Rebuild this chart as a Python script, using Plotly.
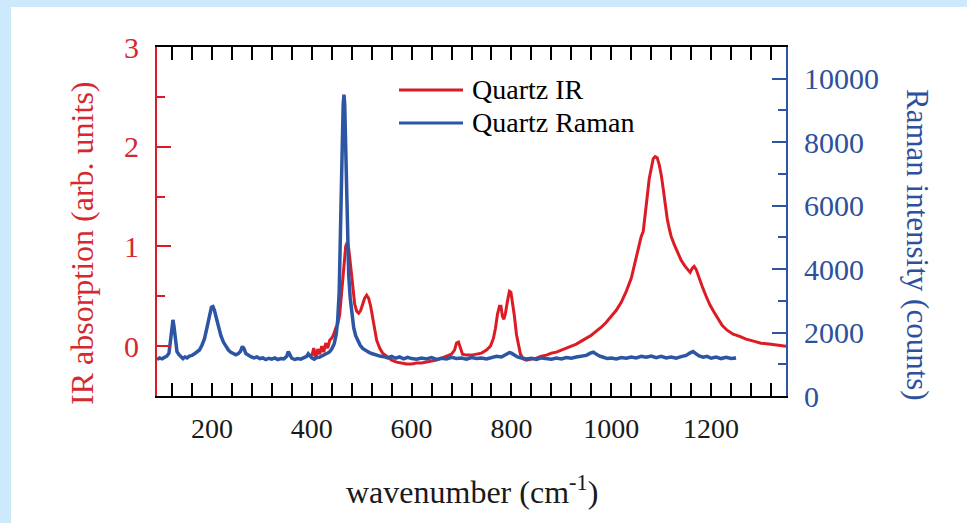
import plotly.graph_objects as go

# ---- data ----
ir_x = [400, 404, 408, 412, 416, 420, 424, 428, 432, 436, 440, 444, 448, 452, 456, 460, 464, 468, 471, 474,
        478, 482, 486, 490, 494, 498, 502, 506, 510, 514, 518, 522, 526, 530, 536, 542, 550, 560, 570, 580,
        590, 600, 610, 620, 630, 640, 650, 660, 670, 680, 686, 690, 694, 698, 702, 710, 720, 730, 740, 750,
        758, 764, 768, 772, 776, 779, 782, 785, 788, 792, 796, 799, 802, 806, 810, 814, 818, 824, 830, 840,
        850, 860, 870, 880, 890, 900, 910, 920, 930, 940, 950, 960, 970, 980, 990, 1000, 1010, 1020, 1030, 1040,
        1048, 1054, 1060, 1064, 1068, 1072, 1076, 1080, 1084, 1088, 1092, 1096, 1100, 1104, 1108, 1112, 1116, 1120, 1126, 1132,
        1140, 1148, 1154, 1158, 1162, 1166, 1170, 1176, 1182, 1190, 1198, 1206, 1214, 1222, 1232, 1244, 1256, 1270, 1285, 1300,
        1320, 1340, 1350]
ir_y = [-0.10, -0.02, -0.12, -0.03, -0.08, 0.00, -0.06, 0.03, -0.02, 0.06, 0.08, 0.12, 0.18, 0.22, 0.32, 0.55, 0.80, 1.00, 1.04, 0.98,
        0.80, 0.58, 0.42, 0.35, 0.33, 0.36, 0.42, 0.48, 0.51, 0.48, 0.40, 0.28, 0.16, 0.06, -0.02, -0.07, -0.10, -0.14, -0.16, -0.17,
        -0.18, -0.18, -0.17, -0.17, -0.16, -0.15, -0.14, -0.12, -0.10, -0.08, -0.04, 0.03, 0.04, -0.02, -0.08, -0.09, -0.09, -0.08, -0.07, -0.04,
        0.00, 0.08, 0.18, 0.32, 0.40, 0.40, 0.30, 0.27, 0.33, 0.45, 0.55, 0.54, 0.45, 0.30, 0.12, 0.00, -0.08, -0.13, -0.14, -0.13,
        -0.12, -0.10, -0.09, -0.07, -0.06, -0.04, -0.02, 0.00, 0.02, 0.05, 0.08, 0.11, 0.15, 0.19, 0.24, 0.30, 0.36, 0.44, 0.55, 0.68,
        0.85, 1.00, 1.10, 1.15, 1.30, 1.50, 1.68, 1.80, 1.88, 1.90, 1.89, 1.82, 1.72, 1.58, 1.42, 1.28, 1.18, 1.10, 1.02, 0.95,
        0.86, 0.80, 0.76, 0.74, 0.78, 0.80, 0.77, 0.68, 0.60, 0.50, 0.41, 0.34, 0.27, 0.21, 0.16, 0.12, 0.10, 0.07, 0.05, 0.03,
        0.02, 0.01, 0.00]

raman_x = [90, 95, 100, 105, 110, 114, 117, 120, 122, 124, 127, 130, 134, 138, 142, 146, 150, 155, 160, 165,
           170, 175, 180, 185, 190, 195, 199, 202, 205, 209, 213, 218, 223, 228, 233, 238, 243, 248, 253, 257,
           261, 264, 268, 273, 278, 284, 290, 296, 302, 308, 314, 320, 326, 332, 338, 344, 350, 353, 356, 360,
           366, 372, 378, 384, 390, 393, 396, 400, 405, 410, 415, 420, 425, 430, 435, 440, 445, 449, 452, 455,
           457, 459, 461, 463, 464.5, 466, 468, 470, 472, 474, 477, 480, 484, 488, 492, 497, 502, 508, 514, 520,
           526, 532, 538, 545, 552, 560, 568, 576, 584, 592, 600, 610, 620, 630, 640, 650, 660, 670, 680, 690,
           700, 710, 720, 730, 740, 750, 760, 770, 780, 790, 796, 800, 806, 812, 820, 830, 840, 850, 860, 870,
           880, 890, 900, 910, 920, 930, 940, 950, 958, 964, 970, 976, 984, 992, 1000, 1010, 1020, 1030, 1040, 1050,
           1060, 1070, 1080, 1090, 1100, 1110, 1120, 1130, 1140, 1150, 1158, 1164, 1170, 1176, 1184, 1192, 1200, 1210, 1220, 1230,
           1240, 1250]
raman_y = [1150, 1200, 1170, 1230, 1260, 1350, 1700, 2200, 2400, 2200, 1700, 1400, 1300, 1250, 1180, 1230, 1200, 1260, 1280, 1330,
           1380, 1450, 1600, 1800, 2150, 2550, 2800, 2820, 2700, 2450, 2150, 1900, 1700, 1550, 1450, 1380, 1350, 1300, 1340, 1400,
           1560, 1500, 1340, 1280, 1240, 1200, 1230, 1180, 1200, 1150, 1190, 1160, 1200, 1150, 1180, 1170, 1250, 1400, 1280, 1190,
           1150, 1180, 1160, 1200, 1250, 1330, 1260, 1200, 1160, 1210, 1220, 1260, 1290, 1330, 1380, 1480, 1650, 1950, 2400, 3300,
           4500, 6000, 7800, 9200, 9500, 9200, 7800, 6000, 4700, 3800, 3100, 2600, 2150, 1900, 1750, 1600, 1500, 1430, 1380, 1340,
           1300, 1280, 1250, 1240, 1200, 1250, 1190, 1230, 1170, 1220, 1180, 1160, 1200, 1170, 1210, 1150, 1190, 1170, 1220, 1180,
           1200, 1160, 1210, 1180, 1200, 1170, 1220, 1250, 1230, 1300, 1370, 1350, 1280, 1230, 1200, 1170, 1190, 1150, 1200, 1180,
           1160, 1200, 1170, 1210, 1190, 1230, 1250, 1280, 1350, 1380, 1320, 1260, 1220, 1180, 1200, 1170, 1210, 1190, 1230, 1200,
           1250, 1220, 1260, 1210, 1250, 1200, 1230, 1190, 1240, 1280, 1360, 1400, 1330, 1260, 1220, 1250, 1190, 1230, 1180, 1220,
           1180, 1200]

x_ticks = [200, 400, 600, 800, 1000, 1200]
ir_ticks = [0, 1, 2, 3]
raman_ticks = [0, 2000, 4000, 6000, 8000, 10000]

# ---- style ----
RED = "#dc1c24"
BLUE = "#2c55a3"
RED_TXT = "#d42a2f"
BLUE_TXT = "#2d519c"
FONT = "Liberation Serif"
W, H = 967, 523
L, R, T, B = 157, 786, 47, 396


def px(x):
    return (x - L) / (R - L)


def py(y):
    return (B - y) / (B - T)


fig = go.Figure()
fig.add_trace(go.Scatter(x=raman_x, y=raman_y, mode="lines", name="Quartz Raman",
                         line=dict(color=BLUE, width=3.5), yaxis="y2", showlegend=False))
fig.add_trace(go.Scatter(x=ir_x, y=ir_y, mode="lines", name="Quartz IR",
                         line=dict(color=RED, width=3), yaxis="y", showlegend=False))

fig.update_layout(
    width=W, height=H,
    margin=dict(l=L, r=W - R, t=T, b=H - B),
    paper_bgcolor="#cdeafc",
    plot_bgcolor="white",
    font=dict(family=FONT, size=28, color="black"),
    xaxis=dict(range=[90, 1350], tickvals=x_ticks, ticktext=[str(v) for v in x_ticks],
               ticks="inside", ticklen=13, tickwidth=2,
               tickcolor="black", showline=True, linecolor="black", linewidth=2, mirror="allticks",
               showgrid=False, zeroline=False, tickfont=dict(size=28, color="#1a1a1a"),
               ticklabelstandoff=6,
               minor=dict(dtick=40, tick0=0, ticks="inside", ticklen=7, tickwidth=2, tickcolor="black")),
    yaxis=dict(range=[-0.5, 3], tickvals=ir_ticks, ticktext=[str(v) for v in ir_ticks],
               ticks="inside", ticklen=14, tickwidth=2,
               tickcolor=RED, showline=True, linecolor=RED, linewidth=2,
               showgrid=False, zeroline=False, tickfont=dict(size=30, color=RED_TXT),
               ticklabelstandoff=10,
               minor=dict(dtick=0.5, tick0=0, ticks="inside", ticklen=8, tickwidth=2, tickcolor=RED)),
    yaxis2=dict(range=[0, 11000], tickvals=raman_ticks, ticktext=[str(v) for v in raman_ticks],
                ticks="inside", ticklen=14, tickwidth=2,
                tickcolor=BLUE, showline=True, linecolor=BLUE, linewidth=2, overlaying="y", side="right",
                showgrid=False, zeroline=False, tickfont=dict(size=30, color=BLUE_TXT),
                ticklabelstandoff=10,
                minor=dict(dtick=1000, tick0=0, ticks="inside", ticklen=8, tickwidth=2, tickcolor=BLUE)),
)

# white panel over the light-blue frame
fig.add_shape(type="rect", xref="paper", yref="paper", layer="below",
              x0=px(11), x1=px(W + 5), y0=py(7), y1=py(H + 5),
              fillcolor="white", line=dict(width=0))

# manual legend
fig.add_shape(type="line", xref="paper", yref="paper", x0=px(399), x1=px(463), y0=py(90), y1=py(90),
              line=dict(color=RED, width=3))
fig.add_shape(type="line", xref="paper", yref="paper", x0=px(399), x1=px(463), y0=py(123), y1=py(123),
              line=dict(color=BLUE, width=3))
fig.add_annotation(x=px(470), y=py(89), xref="paper", yref="paper", text="Quartz IR", showarrow=False,
                   xanchor="left", yanchor="middle", font=dict(size=28, color="black"))
fig.add_annotation(x=px(470), y=py(122), xref="paper", yref="paper", text="Quartz Raman", showarrow=False,
                   xanchor="left", yanchor="middle", font=dict(size=28, color="black"))

# axis titles
fig.add_annotation(x=px(82), y=py(243), xref="paper", yref="paper", text="IR absorption (arb. units)",
                   showarrow=False, textangle=-90, xanchor="center", yanchor="middle",
                   font=dict(size=32, color=RED_TXT))
fig.add_annotation(x=px(918), y=py(245), xref="paper", yref="paper", text="Raman intensity (counts)",
                   showarrow=False, textangle=90, xanchor="center", yanchor="middle",
                   font=dict(size=31, color=BLUE_TXT))
fig.add_annotation(x=0.5, y=py(490), xref="paper", yref="paper", text="wavenumber (cm<sup>-1</sup>)",
                   showarrow=False, xanchor="center", yanchor="middle",
                   font=dict(size=32, color="#1a1a1a"))

fig.write_html("out.html")
